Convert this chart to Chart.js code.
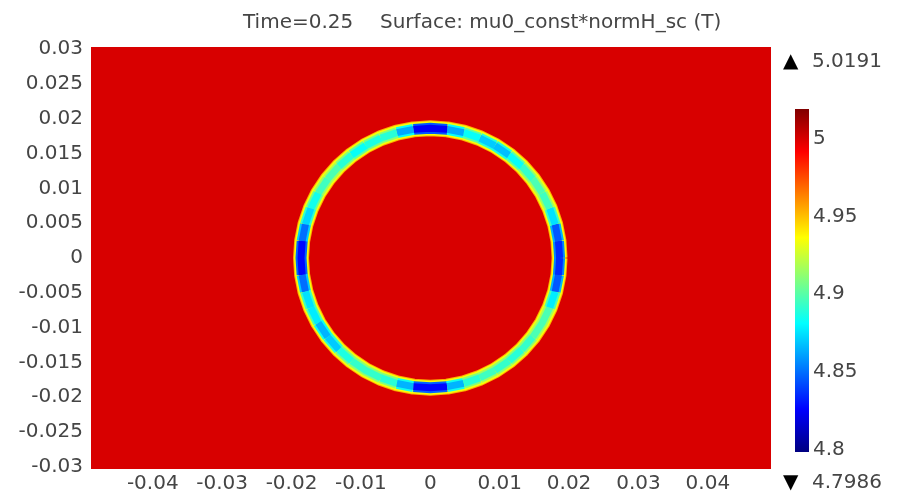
<!DOCTYPE html>
<html>
<head>
<meta charset="utf-8">
<script src="https://cdn.jsdelivr.net/npm/chart.js@4.4.1/dist/chart.umd.min.js"></script>
<style>
  body { margin: 0; background: #fff; }
  #wrap { position: relative; width: 901px; height: 494px; }
  #plot { position: absolute; left: 0; top: 0; }
  #colorbar { position: absolute; left: 795px; top: 93px; }
</style>
</head>
<body>
<div id="wrap">
  <canvas id="plot" width="901" height="494"></canvas>
  <canvas id="colorbar" width="100" height="375"></canvas>
</div>
<script>
// Surface plot of mu0_const*normH_sc at Time=0.25
const titleTime = 'Time=0.25';
const titleExpr = 'Surface: mu0_const*normH_sc (T)';

// axes
const xRange = [-0.0489, 0.0491];
const yRange = [-0.0303, 0.0303];
const xTicks = [-0.04, -0.03, -0.02, -0.01, 0, 0.01, 0.02, 0.03, 0.04];
const yTicks = [-0.03, -0.025, -0.02, -0.015, -0.01, -0.005, 0, 0.005, 0.01, 0.015, 0.02, 0.025, 0.03];

// colour range and legend ticks
const valueMin = 4.7986;
const valueMax = 5.0191;
const colorbarTicks = [4.8, 4.85, 4.9, 4.95, 5];

// field value of the plate away from the ring
const fieldValue = 5.0;

// ring (centre, mid radius) and values read around it, angle in degrees from +x
const ringCenter = [0, 0];
const ringRadius = 0.01863;
const ringAngles = [0, 7.5, 15, 22.5, 30, 37.5, 45, 52.5, 60, 67.5, 75, 82.5,
  90, 97.5, 105, 112.5, 120, 127.5, 135, 142.5, 150, 157.5, 165, 172.5,
  180, 187.5, 195, 202.5, 210, 217.5, 225, 232.5, 240, 247.5, 255, 262.5,
  270, 277.5, 285, 292.5, 300, 307.5, 315, 322.5, 330, 337.5, 345, 352.5];
const ringCore = [4.84, 4.83, 4.86, 4.89, 4.90, 4.895, 4.89, 4.875, 4.86, 4.88, 4.885, 4.84,
  4.81, 4.84, 4.885, 4.895, 4.88, 4.885, 4.895, 4.90, 4.89, 4.88, 4.865, 4.835,
  4.82, 4.835, 4.865, 4.885, 4.87, 4.86, 4.88, 4.895, 4.89, 4.895, 4.885, 4.845,
  4.81, 4.845, 4.885, 4.895, 4.895, 4.89, 4.89, 4.895, 4.90, 4.895, 4.86, 4.83];
// values at the ring's edges (outer rim, inner rim)
const ringEdge = [4.955, 4.935];

const textColor = '#454545';
const font = { family: 'DejaVu Sans', size: 20 };

// jet colour map over [valueMin, valueMax]
function jet(v) {
  const f = (v - valueMin) / (valueMax - valueMin);
  const c = t => Math.round(255 * Math.max(0, Math.min(1, t)));
  return `rgb(${c(1.5 - Math.abs(4 * f - 3))},${c(1.5 - Math.abs(4 * f - 2))},${c(1.5 - Math.abs(4 * f - 1))})`;
}

const closedAngles = ringAngles.concat([ringAngles[0] + 360]);
const closedCore = ringCore.concat([ringCore[0]]);

function ringPoints() {
  return closedAngles.map(a => ({
    x: ringCenter[0] + ringRadius * Math.cos(a * Math.PI / 180),
    y: ringCenter[1] + ringRadius * Math.sin(a * Math.PI / 180)
  }));
}

// solid rim band of the ring; lower order is drawn on top
function rimLayer(width, order, value) {
  return {
    data: ringPoints(),
    order: order,
    showLine: true,
    pointRadius: 0,
    borderWidth: width,
    borderColor: jet(value),
    borderJoinStyle: 'round'
  };
}

// band coloured by the values read around the ring
function coreLayer(width, order, shift) {
  return {
    data: ringPoints(),
    order: order,
    showLine: true,
    pointRadius: 0,
    borderWidth: width,
    borderColor: jet(fieldValue),
    borderCapStyle: 'butt',
    segment: {
      borderColor: ctx => jet((closedCore[ctx.p0DataIndex] + closedCore[ctx.p1DataIndex]) / 2 + shift)
    }
  };
}

// paint the plate and the labels around the plot
const fieldPlugin = {
  id: 'field',
  beforeDatasetsDraw(chart) {
    const { ctx, chartArea: a } = chart;
    ctx.save();
    ctx.fillStyle = jet(fieldValue);
    ctx.fillRect(a.left, a.top, a.width, a.height);
    ctx.restore();
  },
  afterDraw(chart) {
    const ctx = chart.ctx;
    ctx.save();
    ctx.fillStyle = textColor;
    ctx.font = '20px "DejaVu Sans"';
    ctx.textAlign = 'left';
    ctx.textBaseline = 'alphabetic';
    ctx.fillText(titleTime, 243, 28);
    ctx.fillText(titleExpr, 380, 28);
    ctx.fillStyle = '#000';
    ctx.textBaseline = 'middle';
    ctx.fillText('\u25B2', 783, 62);
    ctx.fillText('\u25BC', 783, 483);
    ctx.fillStyle = textColor;
    ctx.fillText(String(valueMax), 812, 62);
    ctx.fillText(String(valueMin), 812, 483);
    ctx.restore();
  }
};

new Chart(document.getElementById('plot'), {
  type: 'scatter',
  data: {
    datasets: [
      rimLayer(16, 4, ringEdge[0]),
      rimLayer(14, 3, ringEdge[1]),
      coreLayer(11, 2, 0.02),
      coreLayer(7, 1, 0)
    ]
  },
  options: {
    animation: false,
    responsive: false,
    layout: { padding: { top: 47, right: 130, left: 0, bottom: 0 } },
    plugins: { legend: { display: false }, tooltip: { enabled: false } },
    scales: {
      x: {
        type: 'linear',
        min: xRange[0],
        max: xRange[1],
        afterBuildTicks: s => { s.ticks = xTicks.map(v => ({ value: v })); },
        afterFit: s => { s.height = 25; },
        grid: { display: false, drawTicks: false },
        border: { display: false },
        ticks: { padding: 3, color: textColor, font: font, maxRotation: 0, autoSkip: false, callback: v => String(v) }
      },
      y: {
        type: 'linear',
        min: yRange[0],
        max: yRange[1],
        afterBuildTicks: s => { s.ticks = yTicks.map(v => ({ value: v })); },
        afterFit: s => { s.width = 91; },
        grid: { display: false, drawTicks: false },
        border: { display: false },
        ticks: { padding: 8, color: textColor, font: font, autoSkip: false, callback: v => String(v) }
      }
    }
  },
  plugins: [fieldPlugin]
});

// colour legend
function legendGradient(chart) {
  const a = chart.chartArea;
  if (!a) return 'transparent';
  const g = chart.ctx.createLinearGradient(0, a.bottom, 0, a.top);
  [0, 0.125, 0.375, 0.625, 0.875, 1].forEach(f => {
    g.addColorStop(f, jet(valueMin + f * (valueMax - valueMin)));
  });
  return g;
}

new Chart(document.getElementById('colorbar'), {
  type: 'bar',
  data: {
    labels: [''],
    datasets: [{
      data: [[valueMin, valueMax]],
      backgroundColor: ctx => legendGradient(ctx.chart),
      borderWidth: 0,
      barPercentage: 1,
      categoryPercentage: 1
    }]
  },
  options: {
    animation: false,
    responsive: false,
    layout: { padding: { top: 10, bottom: 10 } },
    plugins: { legend: { display: false }, tooltip: { enabled: false } },
    scales: {
      x: { display: false },
      y: {
        position: 'right',
        min: valueMin,
        max: valueMax,
        afterBuildTicks: s => { s.ticks = colorbarTicks.map(v => ({ value: v })); },
        afterFit: s => { s.width = 86; },
        grid: { display: false, drawTicks: false },
        border: { display: false },
        ticks: { padding: 4, color: textColor, font: font, callback: v => String(v) }
      }
    }
  }
});
</script>
</body>
</html>
